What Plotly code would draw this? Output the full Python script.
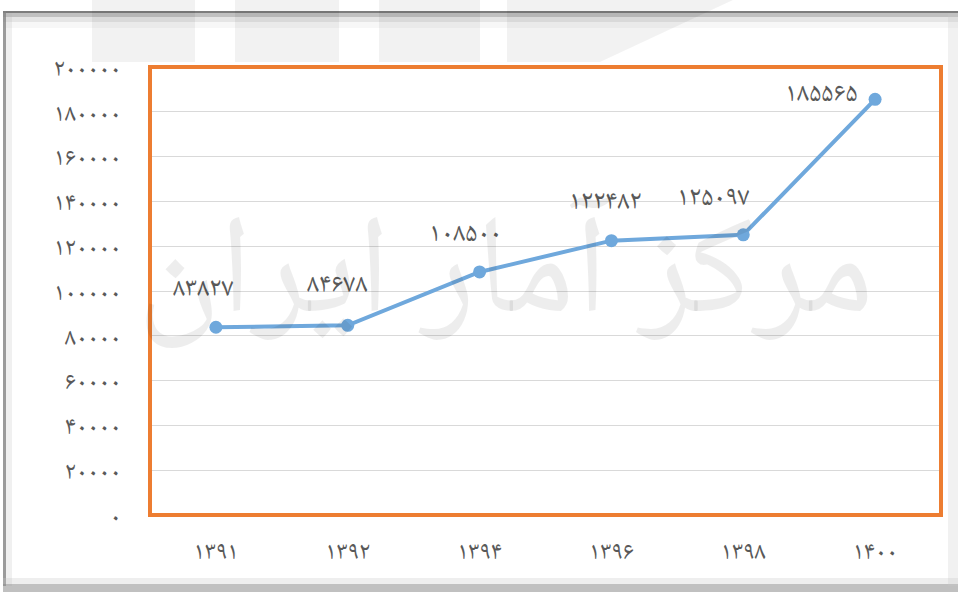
import plotly.graph_objects as go

years = ["۱۳۹۱", "۱۳۹۲", "۱۳۹۴", "۱۳۹۶", "۱۳۹۸", "۱۴۰۰"]
values = [83827, 84678, 108500, 122482, 125097, 185565]
value_labels = ["۸۳۸۲۷", "۸۴۶۷۸", "۱۰۸۵۰۰", "۱۲۲۴۸۲", "۱۲۵۰۹۷", "۱۸۵۵۶۵"]
y_ticks = [0, 20000, 40000, 60000, 80000, 100000, 120000, 140000, 160000, 180000, 200000]
y_tick_labels = ["۰", "۲۰۰۰۰", "۴۰۰۰۰", "۶۰۰۰۰", "۸۰۰۰۰", "۱۰۰۰۰۰",
                 "۱۲۰۰۰۰", "۱۴۰۰۰۰", "۱۶۰۰۰۰", "۱۸۰۰۰۰", "۲۰۰۰۰۰"]

# label placement offsets (pixels), styling only
label_dx = [-12, -10, -14, -6, -30, -54]
label_dy = [37, 39, 37, 38, 36, 4]

W, H = 958, 592
L, R, T, B = 150, 941, 67, 515

def px(x):
    return (x - L) / (R - L)

def py(y):
    return (B - y) / (B - T)

FONT = "Noto Naskh Arabic, Noto Sans Arabic, DejaVu Sans"
GREY = "#595959"

fig = go.Figure()
fig.add_trace(go.Scatter(
    x=years, y=values, mode="lines+markers",
    line=dict(color="#6FA8DC", width=4),
    marker=dict(color="#6FA8DC", size=13),
    cliponaxis=False, hoverinfo="skip",
))

annotations = []
for yr, v, lab, dx, dy in zip(years, values, value_labels, label_dx, label_dy):
    annotations.append(dict(x=yr, y=v, text=lab, showarrow=False, xshift=dx, yshift=dy,
                            font=dict(family=FONT, size=27, color=GREY)))
annotations.append(dict(text="مرکز آمار ایران", xref="paper", yref="paper",
                        x=px(505), y=py(280), showarrow=False,
                        font=dict(family=FONT, size=140, color="rgba(0,0,0,0.07)")))

shapes = []
# outer frame shadows
for (y0, y1, c) in [(11, 13, "rgba(110,110,110,0.9)"), (13, 17, "rgba(140,140,140,0.55)"),
                    (17, 22, "rgba(170,170,170,0.3)"), (22, 28, "rgba(200,200,200,0.15)")]:
    shapes.append(dict(type="rect", xref="paper", yref="paper", x0=px(3), x1=px(958),
                       y0=py(y1), y1=py(y0), fillcolor=c, line_width=0, layer="below"))
shapes.append(dict(type="rect", xref="paper", yref="paper", x0=px(3), x1=px(6),
                   y0=py(586), y1=py(11), fillcolor="rgba(130,130,130,0.8)", line_width=0, layer="below"))
shapes.append(dict(type="rect", xref="paper", yref="paper", x0=px(6), x1=px(12),
                   y0=py(586), y1=py(13), fillcolor="rgba(180,180,180,0.2)", line_width=0, layer="below"))
for (y0, y1, c) in [(578, 584, "rgba(200,200,200,0.3)"), (584, 592, "rgba(150,150,150,0.6)")]:
    shapes.append(dict(type="rect", xref="paper", yref="paper", x0=px(3), x1=px(958),
                       y0=py(y1), y1=py(y0), fillcolor=c, line_width=0, layer="below"))
shapes.append(dict(type="rect", xref="paper", yref="paper", x0=px(948), x1=px(958),
                   y0=py(586), y1=py(13), fillcolor="rgba(200,200,200,0.25)", line_width=0, layer="below"))
# faint logo blocks at top
for (x0, x1) in [(92, 195), (235, 339), (379, 480)]:
    shapes.append(dict(type="rect", xref="paper", yref="paper", x0=px(x0), x1=px(x1),
                       y0=py(62), y1=py(0), fillcolor="rgba(0,0,0,0.05)", line_width=0))
shapes.append(dict(type="path", xref="paper", yref="paper",
                   path=f"M {px(507)} {py(0)} L {px(733)} {py(0)} L {px(600)} {py(62)} L {px(507)} {py(62)} Z",
                   fillcolor="rgba(0,0,0,0.05)", line_width=0))
# orange plot-area border
shapes.append(dict(type="rect", xref="paper", yref="paper", x0=0, x1=1, y0=0, y1=1,
                   line=dict(color="#ED7D31", width=4)))

fig.update_layout(
    width=W, height=H,
    margin=dict(l=L, r=W - R, t=T, b=H - B),
    paper_bgcolor="white", plot_bgcolor="white",
    showlegend=False,
    shapes=shapes,
    annotations=annotations,
    xaxis=dict(type="category", range=[-0.5, 5.5], showgrid=False, zeroline=False,
               showline=False, ticks="", ticklabelstandoff=18,
               tickfont=dict(family=FONT, size=25, color=GREY)),
    yaxis=dict(range=[0, 200000], tickvals=y_ticks, ticktext=y_tick_labels,
               showgrid=True, gridcolor="#D9D9D9", gridwidth=1, zeroline=False,
               showline=False, ticks="", ticklabelstandoff=28,
               tickfont=dict(family=FONT, size=25, color=GREY)),
)

fig.write_html("out.html", config={"displayModeBar": False},
               post_script="document.body.style.margin='0';")
